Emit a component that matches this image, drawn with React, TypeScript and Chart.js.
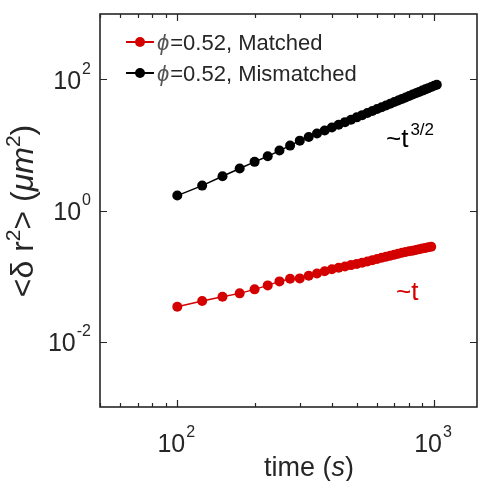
import React, { useEffect, useRef } from "react";
import { Chart, registerables } from "chart.js";

Chart.register(...registerables);

// ---- data ----
const timeSec = [
  100, 125, 150, 175, 200, 225, 250, 275, 300, 325, 350, 375, 400, 425, 450, 475, 500,
  525, 550, 575, 600, 625, 650, 675, 700, 725, 750, 775, 800, 825, 850, 875, 900, 925,
  950, 975, 1000, 1025,
];
const matchedMSD = [
  0.034, 0.0414, 0.0483, 0.0543, 0.0625, 0.0719, 0.0827, 0.091, 0.0919, 0.1007, 0.1091,
  0.1183, 0.127, 0.1334, 0.14, 0.1466, 0.153, 0.16, 0.167, 0.1746, 0.1823, 0.1896,
  0.1968, 0.2046, 0.2119, 0.2195, 0.226, 0.232, 0.238, 0.2438, 0.25, 0.2562, 0.2624,
  0.268, 0.274, 0.28,
];
const mismatchedMSD = [
  1.69, 2.4, 3.33, 4.37, 5.53, 6.72, 8.22, 9.79, 11.66, 13.27, 14.94, 16.67, 18.49,
  20.38, 22.33, 24.34, 26.42, 28.58, 30.78, 33.05, 35.39, 37.77, 40.21, 42.71, 45.27,
  47.88, 50.55, 53.27, 56.07, 58.88, 61.74, 64.68, 67.68, 70.7, 73.79, 76.91, 80.09, 83.37,
];
const seriesNames = ["=0.52, Matched", "=0.52, Mismatched"];
const xMajorTicks = [100, 1000];
const xMajorExp = ["2", "3"];
const xMinorTicks = [50, 60, 70, 80, 90, 200, 300, 400, 500, 600, 700, 800, 900];
const yMajorTicks = [0.01, 1, 100];
const yMajorExp = ["-2", "0", "2"];

const RED = "#d40000";
const BLACK = "#000000";
const AXIS = "#262626";
const FONT = '"Liberation Sans", Arial, Helvetica, sans-serif';

function drawPow(ctx: CanvasRenderingContext2D, exp: string, x: number, baseY: number, align: "right" | "center", baseSize: number, expSize: number) {
  ctx.font = `${baseSize}px ${FONT}`;
  const wb = ctx.measureText("10").width;
  ctx.font = `${expSize}px ${FONT}`;
  const we = ctx.measureText(exp).width;
  const total = wb + 1 + we;
  const start = align === "right" ? x - total : x - total / 2;
  ctx.textAlign = "left";
  ctx.textBaseline = "alphabetic";
  ctx.font = `${baseSize}px ${FONT}`;
  ctx.fillText("10", start, baseY);
  ctx.font = `${expSize}px ${FONT}`;
  ctx.fillText(exp, start + wb + 1, baseY - baseSize * 0.6);
}

type Part = { t: string; italic?: boolean; sup?: boolean };
function drawParts(ctx: CanvasRenderingContext2D, parts: Part[], x: number, y: number, size: number, align: "left" | "center") {
  const supSize = Math.round(size * 0.65);
  const fontOf = (p: Part) => `${p.italic ? "italic " : ""}${p.sup ? supSize : size}px ${FONT}`;
  let total = 0;
  for (const p of parts) { ctx.font = fontOf(p); total += ctx.measureText(p.t).width; }
  let cx = align === "center" ? x - total / 2 : x;
  ctx.textAlign = "left";
  ctx.textBaseline = "alphabetic";
  for (const p of parts) {
    ctx.font = fontOf(p);
    ctx.fillText(p.t, cx, p.sup ? y - size * 0.42 : y);
    cx += ctx.measureText(p.t).width;
  }
}

const matlabPlugin = {
  id: "matlabAxes",
  afterDatasetsDraw(chart: any) {
    const { ctx, chartArea: a, scales } = chart;
    const xs = scales.x, ys = scales.y;
    ctx.save();
    // frame
    ctx.strokeStyle = AXIS;
    ctx.lineWidth = 1.6;
    ctx.strokeRect(a.left, a.top, a.right - a.left, a.bottom - a.top);
    // ticks
    ctx.beginPath();
    const xt = (v: number, len: number) => {
      const px = Math.round(xs.getPixelForValue(v)) + 0.5;
      ctx.moveTo(px, a.bottom); ctx.lineTo(px, a.bottom - len);
      ctx.moveTo(px, a.top); ctx.lineTo(px, a.top + len);
    };
    const yt = (v: number, len: number) => {
      const py = Math.round(ys.getPixelForValue(v)) + 0.5;
      ctx.moveTo(a.left, py); ctx.lineTo(a.left + len, py);
      ctx.moveTo(a.right, py); ctx.lineTo(a.right - len, py);
    };
    xMajorTicks.forEach((v) => xt(v, 7));
    xMinorTicks.forEach((v) => xt(v, 4));
    yMajorTicks.forEach((v) => yt(v, 7));
    ctx.lineWidth = 1.2;
    ctx.stroke();

    // tick labels
    ctx.fillStyle = AXIS;
    xMajorTicks.forEach((v, i) => {
      drawPow(ctx, xMajorExp[i], xs.getPixelForValue(v) - 1, a.bottom + 45, "center", 25, 16);
    });
    yMajorTicks.forEach((v, i) => {
      drawPow(ctx, yMajorExp[i], a.left - 9, ys.getPixelForValue(v) + 9, "right", 25, 16);
    });

    // x label
    drawParts(ctx, [{ t: "time (" }, { t: "s", italic: true }, { t: ")" }], 309, 476, 27, "center");

    // y label
    ctx.save();
    ctx.translate(33, 211);
    ctx.rotate(-Math.PI / 2);
    drawParts(ctx, [
      { t: "<δ r" }, { t: "2", sup: true }, { t: "> (" }, { t: "μm", italic: true }, { t: "2", sup: true }, { t: ")" },
    ], 0, 0, 32, "center");
    ctx.restore();

    // annotations
    ctx.fillStyle = BLACK;
    ctx.font = `26px ${FONT}`;
    ctx.textAlign = "left";
    ctx.fillText("~t", 386, 147);
    const wt = ctx.measureText("~t").width;
    ctx.font = `17px ${FONT}`;
    ctx.fillText("3/2", 386 + wt + 2, 135);
    ctx.fillStyle = RED;
    ctx.font = `26px ${FONT}`;
    ctx.fillText("~t", 396, 300);

    // legend
    const rows = [
      { y: 42, color: RED, name: seriesNames[0] },
      { y: 73, color: BLACK, name: seriesNames[1] },
    ];
    rows.forEach((r) => {
      ctx.strokeStyle = r.color;
      ctx.lineWidth = 2;
      ctx.beginPath();
      ctx.moveTo(126, r.y); ctx.lineTo(154, r.y);
      ctx.stroke();
      ctx.fillStyle = r.color;
      ctx.beginPath();
      ctx.arc(140, r.y, 5, 0, Math.PI * 2);
      ctx.fill();
      ctx.fillStyle = "#555555";
      ctx.font = `italic 22px ${FONT}`;
      ctx.textAlign = "left";
      ctx.fillText("ϕ", 157, r.y + 8);
      const wp = ctx.measureText("ϕ").width;
      ctx.fillStyle = AXIS;
      ctx.font = `22px ${FONT}`;
      ctx.fillText(r.name, 157 + wp + 1, r.y + 8);
    });
    ctx.restore();
  },
};

export default function App() {
  const ref = useRef<HTMLCanvasElement | null>(null);
  useEffect(() => {
    document.body.style.margin = "0";
    if (!ref.current) return;
    const chart = new Chart(ref.current, {
      type: "line",
      data: {
        datasets: [
          {
            label: "ϕ" + seriesNames[0],
            data: matchedMSD.map((y, i) => ({ x: timeSec[i], y })),
            borderColor: RED,
            backgroundColor: RED,
            borderWidth: 1.5,
            pointRadius: 5,
            pointBorderWidth: 0,
            pointBackgroundColor: RED,
          },
          {
            label: "ϕ" + seriesNames[1],
            data: mismatchedMSD.map((y, i) => ({ x: timeSec[i], y })),
            borderColor: BLACK,
            backgroundColor: BLACK,
            borderWidth: 1.5,
            pointRadius: 5,
            pointBorderWidth: 0,
            pointBackgroundColor: BLACK,
          },
        ],
      },
      options: {
        animation: false,
        responsive: false,
        devicePixelRatio: 1,
        layout: { padding: { left: 100, top: 14, right: 1, bottom: 74 } },
        plugins: { legend: { display: false }, tooltip: { enabled: false } },
        scales: {
          x: { type: "logarithmic", min: 50, max: 1470, display: false },
          y: { type: "logarithmic", min: 0.001, max: 1000, display: false },
        },
      },
      plugins: [matlabPlugin],
    });
    return () => chart.destroy();
  }, []);
  return (
    <div style={{ width: 482, height: 481, background: "#fff" }}>
      <canvas ref={ref} width={482} height={481} style={{ display: "block" }} />
    </div>
  );
}
